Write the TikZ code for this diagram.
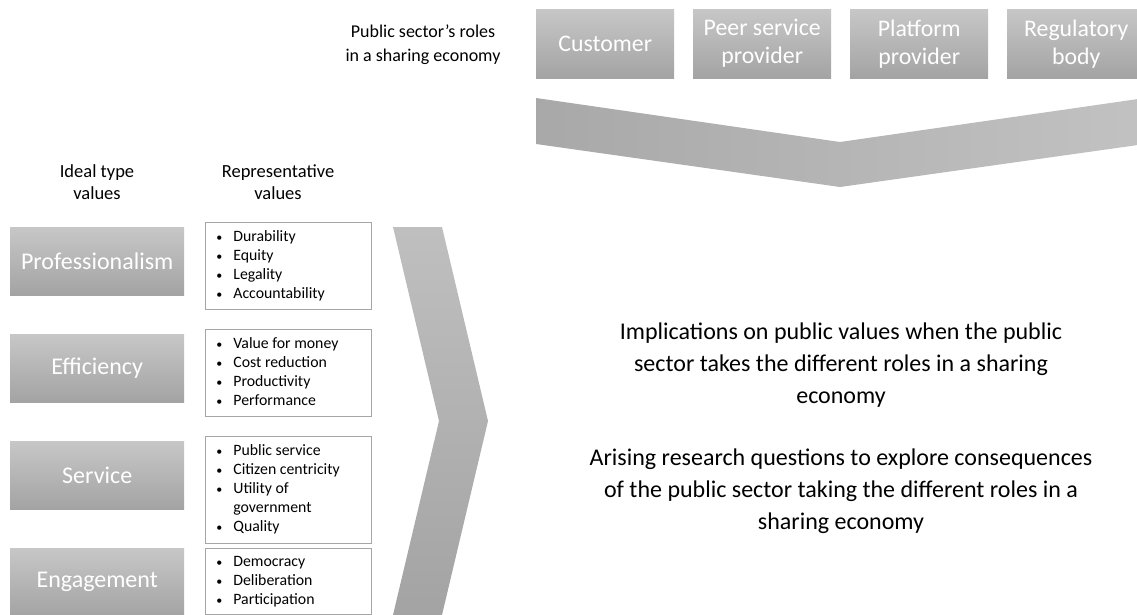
\documentclass[tikz,border=0pt]{standalone}
\usepackage{fontspec}
\setmainfont{Carlito}
\usetikzlibrary{positioning,shapes}
\newcommand{\vitem}[1]{\makebox[28pt][l]{\hspace{11pt}{\fontsize{12}{12}\selectfont\textbullet}}#1}

\begin{document}
\begin{tikzpicture}[x=1pt,y=-1pt,node distance=157pt,
  rolebox/.style={rectangle,top color=black!22,bottom color=black!36,text=white,minimum width=138pt,minimum height=69pt,align=center,inner sep=0pt,font=\fontsize{23.8}{28}\selectfont},
  idealbox/.style={rectangle,top color=black!22,bottom color=black!36,text=white,minimum width=174pt,minimum height=68pt,inner sep=0pt,font=\fontsize{24}{29}\selectfont},
  repbox/.style={rectangle,draw=black!35,line width=0.8pt,inner sep=0pt,font=\fontsize{15.8}{19}\selectfont},
  heading/.style={align=center,font=\fontsize{18.5}{22}\selectfont},
  bigtext/.style={align=center,font=\fontsize{24}{32}\selectfont}]
\useasboundingbox (0,0) rectangle (1137,615);
\shade[left color=black!34,right color=black!24] (536,98) -- (840,142) -- (1145,98) -- (1145,144) -- (840,187) -- (536,144) -- cycle;
\shade[top color=black!25,bottom color=black!36] (393,227) -- (442,227) -- (488,421) -- (442,615) -- (393,615) -- (439,421) -- cycle;
\node[rolebox,anchor=north west] at (536,9) (cust) {Customer};
\node[rolebox,right of=cust] (peer) {Peer service\\provider};
\node[rolebox,right of=peer] (plat) {Platform\\provider};
\node[rolebox,right of=plat] (regu) {Regulatory\\body};
\node[font=\fontsize{18}{24}\selectfont,align=center] at (423,45) (roles) {Public sector’s roles\\in a sharing economy};
\node[heading] at (97,182) (ideal) {Ideal type\\values};
\node[heading] at (278,182) (repr) {Representative\\values};
\node[idealbox,anchor=north west] at (10,227) (prof) {Professionalism};
\node[idealbox,below of=prof,node distance=107pt] (effi) {Efficiency};
\node[idealbox,below of=effi,node distance=107pt] (serv) {Service};
\node[idealbox,below of=serv,node distance=107pt] (enga) {Engagement};
\node[repbox,minimum height=87pt,anchor=north west] at (205,222) (rprof) {\begin{tabular}{@{}p{166pt}@{}}\vitem{Durability}\\\vitem{Equity}\\\vitem{Legality}\\\vitem{Accountability}\end{tabular}};
\node[repbox,minimum height=87pt,anchor=north west] at (205,329) (reffi) {\begin{tabular}{@{}p{166pt}@{}}\vitem{Value for money}\\\vitem{Cost reduction}\\\vitem{Productivity}\\\vitem{Performance}\end{tabular}};
\node[repbox,minimum height=107pt,anchor=north west] at (205,436) (rserv) {\begin{tabular}{@{}p{166pt}@{}}\vitem{Public service}\\\vitem{Citizen centricity}\\\vitem{Utility of}\\\hspace*{28pt}government\\\vitem{Quality}\end{tabular}};
\node[repbox,minimum height=66pt,anchor=north west] at (205,548) (renga) {\begin{tabular}{@{}p{166pt}@{}}\vitem{Democracy}\\\vitem{Deliberation}\\\vitem{Participation}\end{tabular}};
\node[bigtext] at (841,365) (impl) {Implications on public values when the public\\sector takes the different roles in a sharing\\economy};
\node[bigtext] at (841,491) (ques) {Arising research questions to explore consequences\\of the public sector taking the different roles in a\\sharing economy};
\end{tikzpicture}
\end{document}
